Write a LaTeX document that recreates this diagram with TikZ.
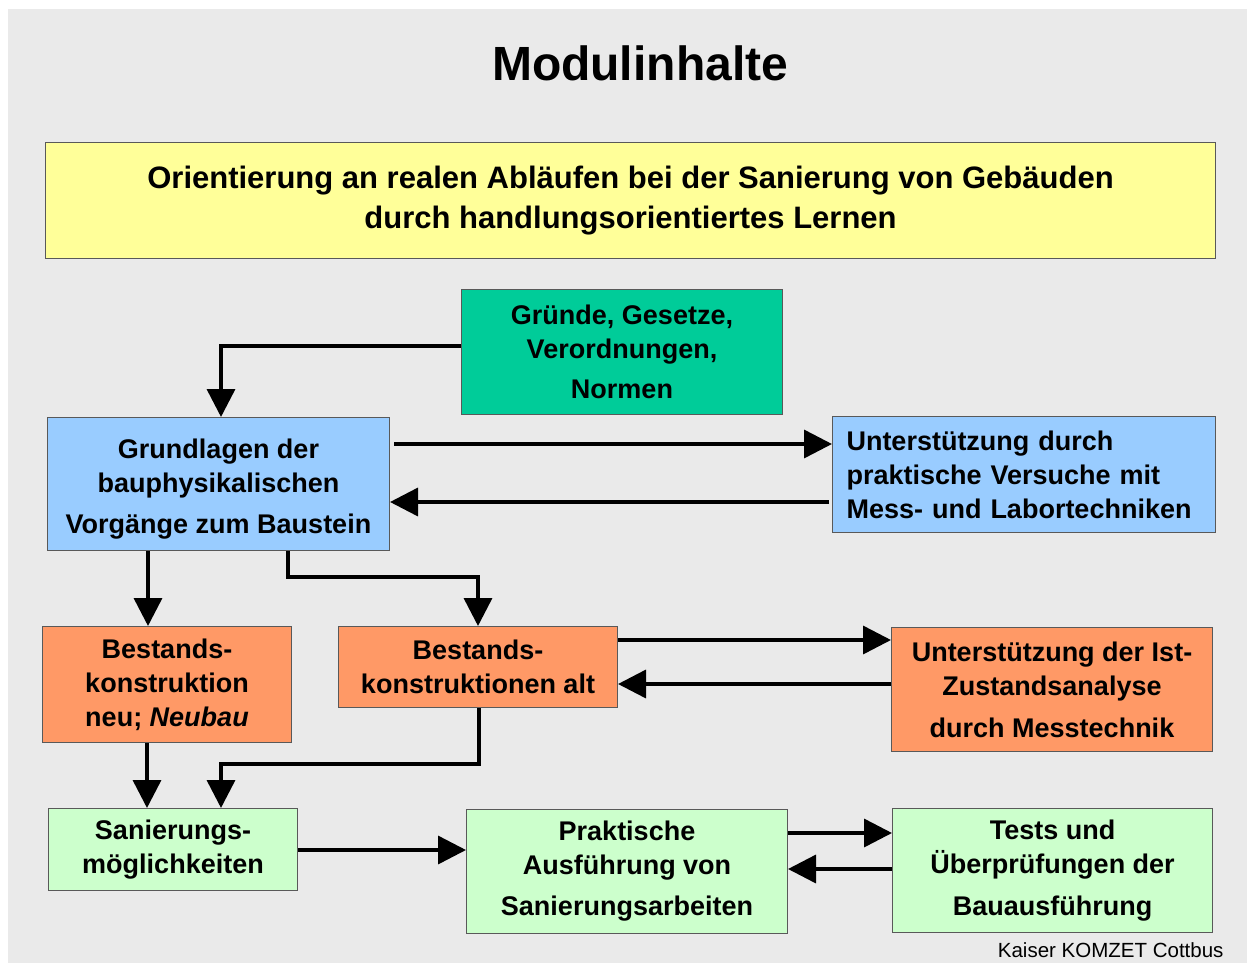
\documentclass[tikz,border=0pt]{standalone}
\usepackage{fontspec}
\setmainfont{Liberation Sans}
\usetikzlibrary{arrows.meta}
\definecolor{bg}{HTML}{EAEAEA}
\definecolor{cyellow}{HTML}{FFFF99}
\definecolor{cgreen}{HTML}{00CC99}
\definecolor{cblue}{HTML}{99CCFF}
\definecolor{corange}{HTML}{FF9966}
\definecolor{clgreen}{HTML}{CCFFCC}
\begin{document}
\begin{tikzpicture}[x=1pt,y=-1pt,
  box/.style={draw=black!65, line width=1pt, anchor=north west, inner sep=0pt, align=center,
    font=\fontsize{27}{34}\selectfont\bfseries},
  arr/.style={line width=3.5pt, -{Triangle[length=28pt,width=28pt]}}]
\useasboundingbox (0,0) rectangle (1247,963);
\fill[bg] (8,9) rectangle (1247,963);
\node[anchor=base, font=\fontsize{48}{56}\selectfont\bfseries] (title) at (640,81) {Modulinhalte};
\node[box, fill=cyellow, minimum width=1170pt, minimum height=116pt, font=\fontsize{31}{40}\selectfont\bfseries] (yellow) at (45,142)
  {Orientierung an realen Abläufen bei der Sanierung von Gebäuden\\durch handlungsorientiertes Lernen};
\node[box, fill=cgreen, minimum width=321pt, minimum height=125pt] (green) at (461,289)
  {Gründe, Gesetze,\\Verordnungen,\\[6pt]Normen};
\node[box, fill=cblue, minimum width=342pt, minimum height=133pt] (blue1) at (47,417)
  {\rule{0pt}{30pt}Grundlagen der\\bauphysikalischen\\[7pt]Vorgänge zum Baustein};
\node[box, fill=cblue, minimum height=116pt, align=left, text width=355pt, inner xsep=14pt] (blue2) at (832,416)
  {Unterstützung durch\\praktische Versuche mit\\Mess- und Labortechniken};
\node[box, fill=corange, minimum width=249pt, minimum height=116pt] (orange1) at (42,626)
  {Bestands-\\konstruktion\\neu; \textit{Neubau}};
\node[box, fill=corange, minimum width=279pt, minimum height=81pt] (orange2) at (338,626)
  {Bestands-\\konstruktionen alt};
\node[box, fill=corange, minimum width=321pt, minimum height=124pt] (orange3) at (891,627)
  {Unterstützung der Ist-\\Zustandsanalyse\\[8pt]durch Messtechnik};
\node[box, fill=clgreen, minimum width=249pt, minimum height=82pt] (lg1) at (48,808)
  {Sanierungs-\\möglichkeiten};
\node[box, fill=clgreen, minimum width=321pt, minimum height=124pt] (lg2) at (466,809)
  {Praktische\\Ausführung von\\[7pt]Sanierungsarbeiten};
\node[box, fill=clgreen, minimum width=320pt, minimum height=124pt] (lg3) at (892,808)
  {Tests und\\Überprüfungen der\\[8pt]Bauausführung};
\node[anchor=base east, font=\fontsize{20.5}{24}\selectfont] (foot) at (1227,957.5) {Kaiser KOMZET Cottbus};
% connectors
\draw[arr] (green.west |- 0,346) -| (blue1.north -| 221,0);
\draw[arr, shorten <=4pt] (blue1.east |- 0,444) -- (blue2.west |- 0,444);
\draw[arr, shorten <=3pt] (blue2.west |- 0,502) -- (blue1.east |- 0,502);
\draw[arr] (blue1.south -| 148,0) -- (orange1.north -| 148,0);
\draw[arr] (blue1.south -| 288,0) -- ++(0,26) -| (orange2.north -| 478,0);
\draw[arr] (orange2.east |- 0,640) -- (orange3.west |- 0,640);
\draw[arr] (orange3.west |- 0,684) -- (orange2.east |- 0,684);
\draw[arr] (orange1.south -| 147,0) -- (lg1.north -| 147,0);
\draw[arr] (orange2.south -| 479,0) -- ++(0,56) -| (lg1.north -| 221,0);
\draw[arr] (lg1.east |- 0,850) -- (lg2.west |- 0,850);
\draw[arr] (lg2.east |- 0,833) -- (lg3.west |- 0,833);
\draw[arr] (lg3.west |- 0,869) -- (lg2.east |- 0,869);
\end{tikzpicture}
\end{document}
